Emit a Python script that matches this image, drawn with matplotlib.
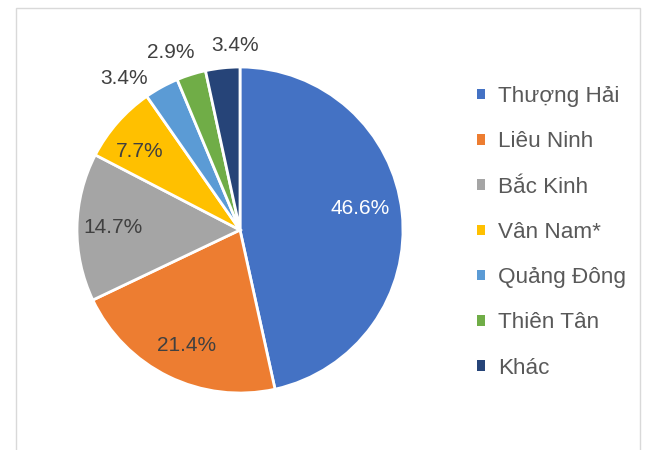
import numpy as np
import matplotlib
matplotlib.use('Agg')
import matplotlib.pyplot as plt
from matplotlib.patches import Rectangle, Patch

plt.rcParams['font.family'] = ['Liberation Sans', 'DejaVu Sans']

# data
regions = ['Thượng Hải', 'Liêu Ninh', 'Bắc Kinh', 'Vân Nam*', 'Quảng Đông', 'Thiên Tân', 'Khác']
shares = [46.6, 21.4, 14.7, 7.7, 3.4, 2.9, 3.4]
colors = ['#4472C4', '#ED7D31', '#A5A5A5', '#FFC000', '#5B9BD5', '#70AD47', '#264478']

# label placement: radial distance and small angular nudge (degrees)
lab_dist = [0.75, 0.78, 0.78, 0.78, 1.17, 1.17, 1.13]
lab_nudge = [4, 1, 0, 3, 8.5, 4, -4.5]

fig = plt.figure(figsize=(6.5, 4.5), dpi=100)

# chart frame (bottom runs off the image)
fig.patches.append(Rectangle((16 / 650, -0.1), (640 - 16) / 650, 1.1 - 8 / 450,
                             transform=fig.transFigure, fill=False,
                             edgecolor='#d9d9d9', linewidth=1))

cx, cy, r = 240, 220, 163
ax = fig.add_axes([(cx - r) / 650, (cy - r) / 450, 2 * r / 650, 2 * r / 450])
wedges, texts = ax.pie(shares, colors=colors, startangle=90, counterclock=False,
                       radius=1, wedgeprops=dict(edgecolor='white', linewidth=2))
ax.set_xlim(-1, 1)
ax.set_ylim(-1, 1)
ax.set_aspect('equal')
ax.axis('off')

for w, s, d, nd in zip(wedges, shares, lab_dist, lab_nudge):
    mid = np.deg2rad((w.theta1 + w.theta2) / 2 + nd)
    col = 'white' if s > 40 else '#404040'
    ax.text(d * np.cos(mid), d * np.sin(mid), f'{s:.1f}%', ha='center', va='center',
            fontsize=15, color=col)

handles = [Patch(facecolor=c, edgecolor='none') for c in colors]
leg = fig.legend(handles, regions, loc='upper left', bbox_to_anchor=(477 / 650, 1 - 86 / 450),
                 frameon=False, fontsize=16.2, labelcolor='#595959',
                 handlelength=0.35, handleheight=0.35, handletextpad=0.6,
                 labelspacing=1.08, borderaxespad=0, borderpad=0)

fig.savefig('out.png', dpi=100)
